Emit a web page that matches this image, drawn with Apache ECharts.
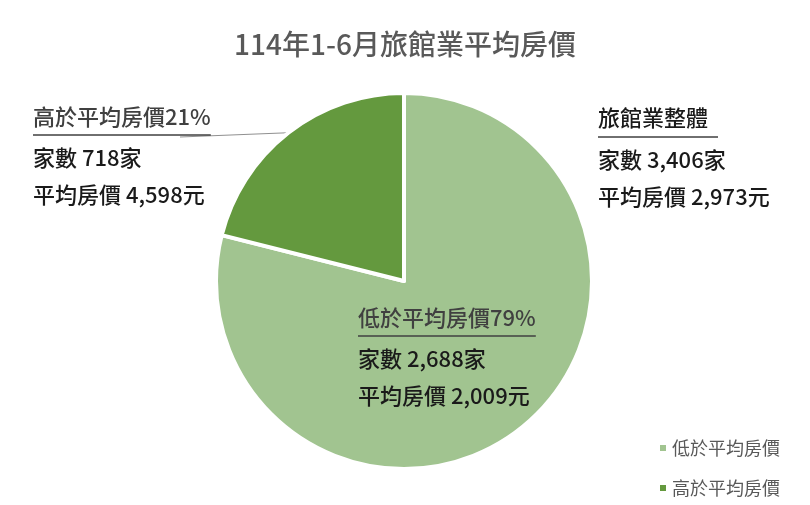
<!DOCTYPE html>
<html>
<head>
<meta charset="utf-8">
<script src="https://cdn.jsdelivr.net/npm/echarts@6/dist/echarts.min.js"></script>
<style>
  html, body { margin: 0; padding: 0; background: #fff; }
  #main { width: 810px; height: 505px; }
</style>
</head>
<body>
<div id="main"></div>
<script>
var chartTitle = '114年1-6月旅館業平均房價';
var categories = ['低於平均房價', '高於平均房價'];
var counts = [2688, 718];
var avgPrices = ['2,009', '4,598'];
var totalCount = '3,406';
var totalPrice = '2,973';
var colors = ['#a1c490', '#64993e'];

var font = '"Noto Sans CJK TC", "Noto Sans", sans-serif';
var richStyle = {
  t: { fontSize: 22, fontWeight: 500, color: '#404040', fontFamily: font, lineHeight: 28 },
  hr: { borderColor: '#404040', borderWidth: 1, width: '100%', height: 0, lineHeight: 8 },
  b: { fontSize: 22, fontWeight: 500, color: '#1a1a1a', fontFamily: font, lineHeight: 37 }
};

var labelPos = [
  { x: 358, y: 304 },
  { x: 33, y: 103 }
];

var option = {
  backgroundColor: '#fff',
  title: [{
    text: chartTitle,
    left: 'center',
    top: 25,
    textStyle: { fontSize: 28, fontWeight: 500, color: '#595959', fontFamily: font }
  }, {
    text: '{t|旅館業整體}\n{hr|}\n{b|家數 ' + totalCount + '家}\n{b|平均房價 ' + totalPrice + '元}',
    left: 598,
    top: 103,
    padding: 0,
    textStyle: { rich: {
      t: { fontSize: 22, fontWeight: 500, color: '#1a1a1a', fontFamily: font, lineHeight: 30 },
      hr: { borderColor: '#404040', borderWidth: 1, width: 120, height: 0, lineHeight: 8 },
      b: richStyle.b
    } }
  }],
  legend: {
    orient: 'vertical',
    left: 653,
    top: 434,
    itemGap: 22,
    icon: 'rect',
    itemWidth: 8,
    itemHeight: 8,
    textStyle: { fontSize: 18, color: '#595959', fontFamily: font }
  },
  series: [{
    type: 'pie',
    center: [404, 281],
    radius: 188,
    startAngle: 90,
    clockwise: true,
    color: colors,
    itemStyle: { borderColor: '#fff', borderWidth: 4 },
    emphasis: { disabled: true },
    label: {
      show: true,
      formatter: function (p) {
        return '{t|' + p.name + Math.round(p.percent) + '%}\n{hr|}\n{b|家數 ' +
          p.value.toLocaleString('en-US') + '家}\n{b|平均房價 ' + avgPrices[p.dataIndex] + '元}';
      },
      rich: richStyle
    },
    labelLine: { show: true, lineStyle: { color: '#909090', width: 1 }, length: 10, length2: 10 },
    labelLayout: function (params) {
      var p = labelPos[params.dataIndex];
      var res = { x: p.x, y: p.y, align: 'left', verticalAlign: 'top', hideOverlap: false, moveOverlap: null };
      // leader line: from the slice edge to just under the label's underline
      if (params.labelLinePoints && params.labelLinePoints.length) {
        var start = params.labelLinePoints[0];
        res.labelLinePoints = [start, [p.x + 147, p.y + 34]];
      }
      return res;
    },
    data: categories.map(function (c, i) {
      return {
        name: c,
        value: counts[i],
        labelLine: { show: i === 1 }
      };
    })
  }]
};

echarts.init(document.getElementById('main')).setOption(option);
</script>
</body>
</html>
